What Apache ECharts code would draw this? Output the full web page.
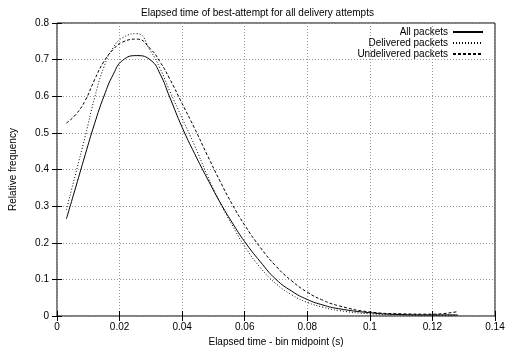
<!DOCTYPE html>
<html>
<head>
<meta charset="utf-8">
<script src="https://cdn.jsdelivr.net/npm/echarts@6/dist/echarts.min.js"></script>
<style>
  html, body { margin: 0; padding: 0; background: #fff; }
  #chart { width: 515px; height: 354px; }
</style>
</head>
<body>
<div id="chart"></div>
<script>
// bin midpoints (s)
const binMid = [0.003, 0.006, 0.009, 0.012, 0.015, 0.018, 0.021, 0.0255, 0.03, 0.033, 0.036,
  0.04, 0.044, 0.048, 0.052, 0.056, 0.06, 0.065, 0.07, 0.075, 0.08, 0.085, 0.09, 0.1, 0.11, 0.12, 0.128];
const allPackets = [0.265, 0.352, 0.44, 0.525, 0.60, 0.66, 0.698, 0.711, 0.698, 0.66, 0.598,
  0.515, 0.443, 0.376, 0.312, 0.255, 0.203, 0.148, 0.10, 0.068, 0.045, 0.03, 0.02, 0.009, 0.004, 0.003, 0.003];
const delivered = [0.29, 0.39, 0.49, 0.595, 0.68, 0.733, 0.76, 0.771, 0.722, 0.675, 0.615,
  0.54, 0.465, 0.385, 0.312, 0.248, 0.19, 0.132, 0.088, 0.058, 0.037, 0.024, 0.015, 0.006, 0.003, 0.002, 0.002];
const undelivered = [0.527, 0.55, 0.588, 0.645, 0.695, 0.728, 0.748, 0.756, 0.728, 0.693, 0.648,
  0.58, 0.512, 0.44, 0.37, 0.305, 0.248, 0.187, 0.136, 0.096, 0.065, 0.043, 0.028, 0.011, 0.006, 0.005, 0.012];

const font = 'Liberation Sans, Helvetica, Arial, sans-serif';

const pairs = ys => binMid.map((x, i) => [x, ys[i]]);

const chart = echarts.init(document.getElementById('chart'));

const lineSeries = (name, ys, type) => ({
  name: name,
  type: 'line',
  data: pairs(ys),
  smooth: 0.5,
  symbol: 'none',
  xAxisIndex: 0,
  yAxisIndex: 0,
  lineStyle: { color: '#000', width: 1, type: type },
  itemStyle: { color: '#000' }
});

const tickStyle = { inside: true, length: 5, lineStyle: { color: '#000', width: 1 } };
const gridLine = { show: true, lineStyle: { color: '#999', type: [1, 2], width: 1 } };

chart.setOption({
  animation: false,
  backgroundColor: '#fff',
  textStyle: { fontFamily: font },
  title: {
    text: 'Elapsed time of best-attempt for all delivery attempts',
    left: 'center',
    top: 3,
    textStyle: { fontSize: 10, fontWeight: 'normal', color: '#000', fontFamily: font }
  },
  legend: {
    orient: 'vertical',
    right: 26,
    top: 22,
    align: 'right',
    itemWidth: 30,
    itemHeight: 10,
    itemGap: 1,
    itemStyle: { opacity: 0 },
    textStyle: { fontSize: 10, color: '#000', fontFamily: font },
    data: ['All packets', 'Delivered packets', 'Undelivered packets']
  },
  grid: {
    left: 57, right: 20, top: 23, bottom: 38,
    show: true, borderColor: '#000', borderWidth: 1
  },
  xAxis: [{
    type: 'value', min: 0, max: 0.14, interval: 0.02,
    name: 'Elapsed time - bin midpoint (s)',
    nameLocation: 'middle', nameGap: 20,
    nameTextStyle: { fontSize: 10, color: '#000' },
    axisLine: { show: false },
    axisTick: tickStyle,
    axisLabel: { fontSize: 10, color: '#000', margin: 6 },
    splitLine: gridLine
  }, {
    type: 'value', min: 0, max: 0.14, interval: 0.02, position: 'top',
    axisLine: { show: false }, axisTick: tickStyle,
    axisLabel: { show: false }, splitLine: { show: false }
  }],
  yAxis: [{
    type: 'value', min: 0, max: 0.8, interval: 0.1,
    name: 'Relative frequency',
    nameLocation: 'middle', nameGap: 39,
    nameTextStyle: { fontSize: 10, color: '#000' },
    axisLine: { show: false },
    axisTick: tickStyle,
    axisLabel: { fontSize: 10, color: '#000', margin: 8, formatter: v => String(+v.toFixed(1)) },
    splitLine: gridLine
  }, {
    type: 'value', min: 0, max: 0.8, interval: 0.1, position: 'right',
    axisLine: { show: false }, axisTick: tickStyle,
    axisLabel: { show: false }, splitLine: { show: false }
  }],
  series: [
    lineSeries('All packets', allPackets, 'solid'),
    lineSeries('Delivered packets', delivered, [1, 2]),
    lineSeries('Undelivered packets', undelivered, [3, 2])
  ]
});
</script>
</body>
</html>
